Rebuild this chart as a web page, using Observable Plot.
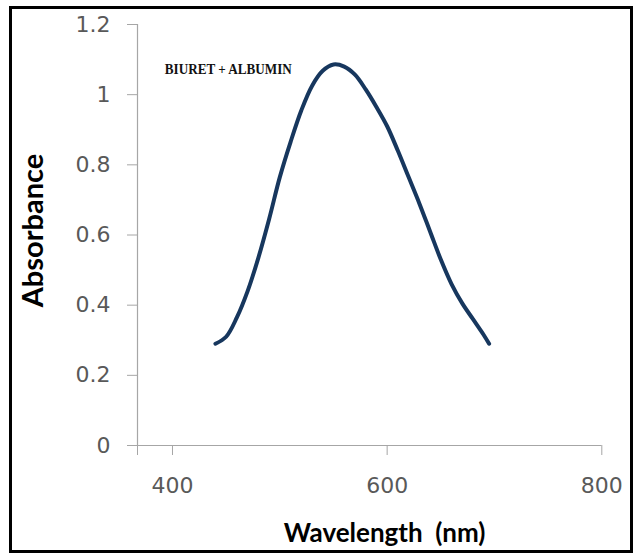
<!DOCTYPE html>
<html>
<head>
<meta charset="utf-8">
<script src="https://cdn.jsdelivr.net/npm/d3@7"></script>
<script src="https://cdn.jsdelivr.net/npm/@observablehq/plot@0.6"></script>
<style>
  html, body { margin: 0; padding: 0; background: #fff; }
  #wrap { position: relative; width: 636px; height: 554px; overflow: hidden; }
  #border { position: absolute; left: 9px; top: 6px; width: 618px; height: 541px; border: 3px solid #000; pointer-events: none; }
  #chart { position: absolute; left: 0; top: 0; }
</style>
</head>
<body>
<div id="wrap"><div id="chart"></div><div id="border"></div></div>
<script>
// Wavelength (nm) and absorbance
const wavelength = [440, 450, 460, 470, 480, 490, 500, 510, 520, 530, 540, 550, 560, 570, 580, 590, 600, 610, 620, 630, 640, 650, 660, 670, 680, 690, 695];
const absorbance = [0.29, 0.31, 0.365, 0.44, 0.535, 0.645, 0.765, 0.865, 0.955, 1.025, 1.068, 1.086, 1.08, 1.057, 1.015, 0.965, 0.91, 0.84, 0.765, 0.69, 0.61, 0.53, 0.46, 0.405, 0.36, 0.315, 0.29];

const xMin = 367.4;
const xMax = 800;
const xTicks = [400, 600, 800];
const yTicks = [0, 0.2, 0.4, 0.6, 0.8, 1, 1.2];
const seriesLabel = "BIURET + ALBUMIN";
const labelPos = { w: 452, a: 1.072 };
const xLabel = "Wavelength  (nm)";
const yLabel = "Absorbance";

const data = wavelength.map((w, i) => ({ w, a: absorbance[i] }));

const axisGray = "#a6a6a6";
const tickText = "#595959";
const tickFont = "'DejaVu Sans', sans-serif";
const labelFont = "Lato, 'Open Sans', sans-serif";

const chart = Plot.plot({
  width: 636,
  height: 554,
  marginLeft: 137,
  marginRight: 34.7,
  marginTop: 24,
  marginBottom: 109,
  style: { fontFamily: labelFont, background: "transparent", overflow: "visible" },
  x: { domain: [xMin, xMax] },
  y: { domain: [0, 1.2] },
  marks: [
    Plot.ruleY([0], { stroke: axisGray, strokeWidth: 1.2 }),
    Plot.ruleX([xMin], { stroke: axisGray, strokeWidth: 1.2 }),
    Plot.axisY({
      ticks: yTicks, tickSize: 10, tickPadding: 17, fontSize: 22,
      fontFamily: tickFont,
      stroke: axisGray, fill: tickText, label: null,
      tickFormat: d => String(+d.toFixed(1))
    }),
    Plot.axisX({
      ticks: [xMin, ...xTicks], tickSize: 10, tickPadding: 22, fontSize: 22,
      fontFamily: tickFont,
      stroke: axisGray, fill: tickText, label: null,
      tickFormat: d => (d === xMin ? "" : String(d))
    }),
    Plot.line(data, { x: "w", y: "a", curve: "catmull-rom", stroke: "#17375E", strokeWidth: 4, strokeLinecap: "round" }),
    Plot.text([seriesLabel], {
      x: () => labelPos.w, y: () => labelPos.a,
      fontFamily: "'Liberation Serif', 'DejaVu Serif', serif", fontWeight: "bold", fontSize: 15,
      fill: "#111", className: "series-label"
    }),
    Plot.text([yLabel], {
      frameAnchor: "left", textAnchor: "middle", lineAnchor: "middle",
      dx: -104, dy: -4.5, rotate: -90,
      fontSize: 29, fontWeight: "bold", fill: "#000"
    }),
    Plot.text([xLabel], {
      frameAnchor: "bottom", textAnchor: "middle", lineAnchor: "bottom",
      dx: 15, dy: 96,
      fontSize: 26, fontWeight: "bold", fill: "#000"
    })
  ]
});

d3.select(chart).selectAll(".series-label text")
  .attr("textLength", 127)
  .attr("lengthAdjust", "spacingAndGlyphs");

d3.select(chart).selectAll("text").style("white-space", "pre");

document.getElementById("chart").appendChild(chart);
</script>
</body>
</html>
